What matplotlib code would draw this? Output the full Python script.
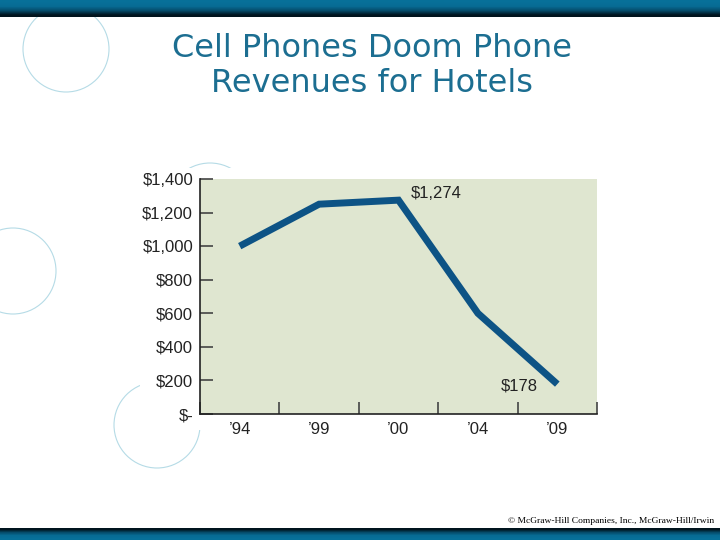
import numpy as np
import matplotlib
matplotlib.use("Agg")
from matplotlib import pyplot as plt
from matplotlib.patches import Ellipse, Rectangle

# chart data
years = ["\u201994", "\u201999", "\u201900", "\u201904", "\u201909"]
revenues = [1000, 1250, 1274, 600, 178]
y_ticks = [0, 200, 400, 600, 800, 1000, 1200, 1400]
y_labels = ["$-", "$200", "$400", "$600", "$800", "$1,000", "$1,200", "$1,400"]
callouts = {2: "$1,274", 4: "$178"}

W, H = 720, 540


def fx(px):
    return px / W


def fy(py):
    return 1 - py / H


def main():
    fig = plt.figure(figsize=(7.2, 5.4), dpi=100)
    fig.patch.set_facecolor("white")

    # top and bottom gradient bars
    top = np.array([[0.03, 0.44, 0.60], [0.03, 0.42, 0.58], [0.02, 0.30, 0.42], [0.0, 0.08, 0.12]])
    ax_top = fig.add_axes([0, fy(17), 1, 17 / H])
    ax_top.imshow(top[:, None, :], aspect="auto", interpolation="bilinear")
    ax_top.axis("off")
    ax_bot = fig.add_axes([0, 0, 1, 12 / H])
    ax_bot.imshow(top[::-1][:, None, :], aspect="auto", interpolation="bilinear")
    ax_bot.axis("off")

    # decorative circles, partly hidden by the white chart box
    for cx, cy in [(66, 49), (13, 271), (157, 425), (210, 206)]:
        fig.patches.append(Ellipse((fx(cx), fy(cy)), 86 / W, 86 / H, transform=fig.transFigure,
                                   fill=False, edgecolor="#b5dbe6", linewidth=0.8, zorder=-1))
    fig.patches.append(Rectangle((fx(140), fy(430)), (610 - 140) / W, (430 - 168) / H,
                                 transform=fig.transFigure, facecolor="white", edgecolor="none",
                                 zorder=-0.5))

    # title
    fig.text(fx(372), fy(66), "Cell Phones Doom Phone\nRevenues for Hotels", ha="center", va="center",
             fontsize=23, color="#1c6e91", family="DejaVu Sans", linespacing=1.15)

    # chart
    ax = fig.add_axes([fx(200), fy(414), (597 - 200) / W, (414 - 179) / H])
    ax.set_facecolor("#dfe6d0")
    x = np.arange(len(years))
    ax.plot(x, revenues, color="#0d5385", linewidth=5, solid_joinstyle="miter", solid_capstyle="butt")
    for i, txt in callouts.items():
        if i == 2:
            ax.text(x[i] + 0.15, revenues[i] + 40, txt, fontsize=12, family="Liberation Sans",
                    color="#222222", va="center", ha="left")
        else:
            ax.text(x[i] - 0.25, revenues[i] - 10, txt, fontsize=12, family="Liberation Sans",
                    color="#222222", va="center", ha="right")

    ax.set_xlim(-0.5, len(years) - 0.5)
    ax.set_ylim(0, 1400)
    ax.set_yticks(y_ticks)
    ax.set_yticklabels(y_labels, family="Liberation Sans", fontsize=12, color="#222222")
    ax.set_xticks(x)
    ax.set_xticklabels(years, family="Liberation Sans", fontsize=12, color="#222222")
    ax.set_xticks(np.arange(len(years) + 1) - 0.5, minor=True)
    ax.tick_params(axis="y", direction="in", length=9, width=1.2, color="#444444", pad=5)
    ax.tick_params(axis="x", which="major", length=0, pad=6)
    ax.tick_params(axis="x", which="minor", direction="in", length=9, width=1.2, color="#444444")
    for s in ["top", "right"]:
        ax.spines[s].set_visible(False)
    for s in ["left", "bottom"]:
        ax.spines[s].set_color("#222222")
        ax.spines[s].set_linewidth(1.2)

    # copyright
    fig.text(fx(714), fy(521), "\u00a9 McGraw-Hill Companies, Inc., McGraw-Hill/Irwin", ha="right",
             va="center", fontsize=6.8, family="Liberation Serif", color="black")

    fig.savefig("out.png", dpi=100)


if __name__ == "__main__":
    main()
